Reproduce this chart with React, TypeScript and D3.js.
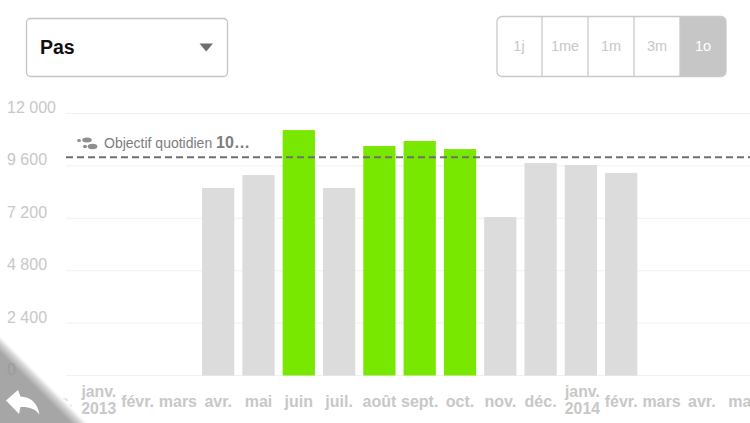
import React from "react";
import * as d3 from "d3";

const W = 750, H = 423;
const months = ["déc.", "janv.", "févr.", "mars", "avr.", "mai", "juin", "juil.", "août", "sept.", "oct.", "nov.", "déc. ", "janv. ", "févr. ", "mars ", "avr. ", "mai "];
const years: Record<string, string> = { "janv.": "2013", "janv. ": "2014" };
const barMonths = ["avr.", "mai", "juin", "juil.", "août", "sept.", "oct.", "nov.", "déc. ", "janv. ", "févr. "];
const barValues = [8590, 9180, 11240, 8590, 10510, 10740, 10370, 7260, 9730, 9640, 9280];
const yTicks = [0, 2400, 4800, 7200, 9600, 12000];
const goal = 10000;
const ranges = ["1j", "1me", "1m", "3m", "1o"];

const sans = "'Liberation Sans', Arial, sans-serif";
const fmt = d3.formatLocale({ decimal: ",", thousands: " ", grouping: [3], currency: ["", "€"] }).format(",d");

export default function App() {
  const y = d3.scaleLinear().domain([0, 12000]).range([375.5, 113.5]);
  const x = d3.scaleBand().domain(months).range([36.85, 36.85 + 40.3 * months.length]).paddingInner(0.2).paddingOuter(0.1);
  const seg = d3.scaleBand().domain(ranges).range([496, 726]);
  return (
    <svg width={W} height={H} viewBox={`0 0 ${W} ${H}`} style={{ position: "fixed", left: 0, top: 0, display: "block", background: "#fff" }}>
      <defs>
        <linearGradient id="corner" gradientUnits="userSpaceOnUse" x1="30" y1="382" x2="42" y2="370">
          <stop offset="0" stopColor="#a6a6a6" />
          <stop offset="0.4" stopColor="#d4d4d4" />
          <stop offset="0.62" stopColor="#f8f8f8" />
          <stop offset="0.75" stopColor="#ffffff" stopOpacity="0.55" />
          <stop offset="1" stopColor="#ffffff" stopOpacity="0" />
        </linearGradient>
      </defs>

      {/* Dropdown */}
      <rect x={26.5} y={18.5} width={201} height={58} rx={4} fill="#fff" stroke="#c4c4c4" strokeWidth={1.3} />
      <text x={40} y={54} fontFamily={sans} fontSize={19.5} fontWeight={700} fill="#111">Pas</text>
      <path d="M199.5 43.5 H213 L206.2 51.5 Z" fill="#6e6e6e" />

      {/* Range selector */}
      <path d={`M${seg("1o")} 16.5 H721 a5 5 0 0 1 5 5 V71.5 a5 5 0 0 1 -5 5 H${seg("1o")} Z`} fill="#c6c6c6" />
      <rect x={497} y={16.5} width={229} height={60} rx={5} fill="none" stroke="#c9c9c9" strokeWidth={1.3} />
      {ranges.slice(1).map(r => (
        <line key={r} x1={seg(r)} x2={seg(r)} y1={17} y2={76} stroke="#c9c9c9" strokeWidth={1.3} />
      ))}
      {ranges.map((r, i) => (
        <text key={r} x={(seg(r) as number) + seg.bandwidth() / 2} y={51} textAnchor="middle" fontFamily={sans} fontSize={14.5}
          fill={i === 4 ? "#fff" : "#c8c8c8"}>{r}</text>
      ))}

      {/* Grid */}
      {yTicks.map(t => (
        <line key={t} x1={66} x2={W} y1={y(t)} y2={y(t)} stroke="#f1f1f1" strokeWidth={1} />
      ))}

      {/* Bars */}
      {barMonths.map((m, i) => (
        <rect key={m} x={x(m)} y={y(barValues[i])} width={x.bandwidth()} height={y(0) - y(barValues[i])}
          fill={barValues[i] >= goal ? "#78e800" : "#dcdcdc"} />
      ))}

      {/* Goal */}
      <line x1={66} x2={W} y1={y(goal)} y2={y(goal)} stroke="#6f6f6f" strokeWidth={2} strokeDasharray="7 4" />
      <g fill="#8f8f8f">
        <ellipse cx={79} cy={140.5} rx={2} ry={1.6} />
        <ellipse cx={87} cy={140} rx={4.8} ry={2.5} />
        <ellipse cx={85} cy={146.5} rx={2} ry={1.7} />
        <ellipse cx={92.5} cy={146.5} rx={4.8} ry={2.8} />
      </g>
      <text x={104} y={147.5} fontFamily={sans} fontSize={14} fill="#7d7d7d">
        Objectif quotidien <tspan fontWeight={700} fontSize={16}>10…</tspan>
      </text>

      {/* X labels */}
      {months.map(m => {
        const cx = (x(m) as number) + x.bandwidth() / 2;
        const yr = years[m];
        return yr ? (
          <text key={m} textAnchor="middle" fontFamily={sans} fontSize={15.8} fontWeight={700} fill="#c8c8c8">
            <tspan x={cx + 1.5} y={397}>{m.trim()}</tspan>
            <tspan x={cx + 1.5} y={414}>{yr}</tspan>
          </text>
        ) : (
          <text key={m} x={cx} y={407} textAnchor="middle" fontFamily={sans} fontSize={16} fontWeight={700} fill="#c8c8c8">{m.trim()}</text>
        );
      })}

      {/* Back corner */}
      <path d="M0 328 L95 423 H0 Z" fill="url(#corner)" />
      <path d="M6 400.5 L18 390 L20.5 396.5 C30 397 37.5 402 39.5 414.5 C35 408.5 28 406.5 20.5 407 L19 414 Z" fill="#fff" />

      {/* Y labels (above the corner, which is translucent over the 0) */}
      {yTicks.map(t => (
        <text key={t} x={7} y={y(t) - 0.5} fontFamily={sans} fontSize={16} fill={t === 0 ? "#9c9c9c" : "#c8c8c8"}>{fmt(t)}</text>
      ))}
    </svg>
  );
}
